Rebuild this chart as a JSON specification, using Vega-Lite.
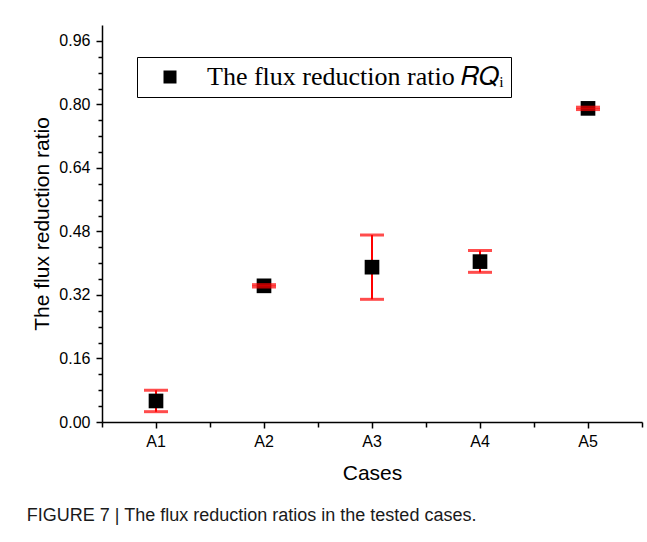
{
  "$schema": "https://vega.github.io/schema/vega-lite/v6.json",
  "width": 540,
  "height": 397,
  "autosize": "none",
  "padding": {"left": 102, "top": 25, "right": 5, "bottom": 120},
  "background": "white",
  "title": {"text": "FIGURE 7 | The flux reduction ratios in the tested cases.", "orient": "bottom", "anchor": "start", "font": "Liberation Sans", "fontSize": 18, "fontWeight": "normal", "color": "#1a1a1a", "offset": 24, "dx": -5},
  "data": {"values": [
    {"case": "A1", "ratio": 0.053, "lo": 0.026, "hi": 0.080, "series": "The flux reduction ratio 𝑅𝑄ᵢ\u00a0\u00a0\u00a0"},
    {"case": "A2", "ratio": 0.343, "lo": 0.340, "hi": 0.346, "series": "The flux reduction ratio 𝑅𝑄ᵢ\u00a0\u00a0\u00a0"},
    {"case": "A3", "ratio": 0.390, "lo": 0.309, "hi": 0.471, "series": "The flux reduction ratio 𝑅𝑄ᵢ\u00a0\u00a0\u00a0"},
    {"case": "A4", "ratio": 0.404, "lo": 0.377, "hi": 0.432, "series": "The flux reduction ratio 𝑅𝑄ᵢ\u00a0\u00a0\u00a0"},
    {"case": "A5", "ratio": 0.790, "lo": 0.787, "hi": 0.793, "series": "The flux reduction ratio 𝑅𝑄ᵢ\u00a0\u00a0\u00a0"}
  ]},
  "config": {
    "view": {"stroke": null},
    "axis": {"domainColor": "black", "domainWidth": 1.5, "tickColor": "black", "tickWidth": 1.5, "labelFont": "Liberation Sans", "labelFontSize": 16, "labelColor": "black", "titleFont": "Liberation Sans", "titleFontSize": 21, "titleFontWeight": "normal", "titleColor": "black", "grid": false}
  },
  "resolve": {"axis": {"x": "independent", "y": "independent"}},
  "layer": [
    {
      "mark": {"type": "rule", "color": "#ff0000", "strokeWidth": 2},
      "encoding": {
        "x": {"field": "case", "type": "nominal", "scale": {"type": "band", "paddingInner": 0, "paddingOuter": 0},
              "axis": {"orient": "bottom", "title": "Cases", "labelAngle": 0, "tickSize": 6, "labelPadding": 5, "titlePadding": 13}},
        "y": {"field": "lo", "type": "quantitative", "scale": {"domain": [0, 1], "nice": false},
              "axis": {"orient": "left", "title": "The flux reduction ratio", "values": [0, 0.16, 0.32, 0.48, 0.64, 0.8, 0.96],
                       "format": ".2f", "tickSize": 6, "labelPadding": 6, "titlePadding": 6}},
        "y2": {"field": "hi"}
      }
    },
    {
      "mark": {"type": "point", "shape": "square", "filled": true, "size": 215, "opacity": 1},
      "encoding": {
        "x": {"field": "case", "type": "nominal", "axis": {"orient": "bottom", "title": null, "labels": false, "domain": false, "tickBand": "extent", "tickSize": 5}},
        "y": {"field": "ratio", "type": "quantitative", "axis": {"orient": "left", "title": null, "labels": false, "domain": false, "tickSize": 4,
              "values": [0.04, 0.08, 0.12, 0.2, 0.24, 0.28, 0.36, 0.4, 0.44, 0.52, 0.56, 0.6, 0.68, 0.72, 0.76, 0.84, 0.88, 0.92]}},
        "color": {"field": "series", "type": "nominal", "scale": {"range": ["black"]},
                  "legend": {"orient": "none", "legendX": 35, "legendY": 32, "title": null, "symbolType": "square", "symbolSize": 169, "symbolStrokeWidth": 0, "strokeColor": "black", "padding": 7, "symbolOffset": 13, "labelFont": "Liberation Serif", "labelFontSize": 26, "labelColor": "black", "labelOffset": 24, "labelLimit": 0}}
      }
    },
    {
      "mark": {"type": "tick", "color": "#ff0000", "size": 24, "thickness": 3},
      "encoding": {
        "x": {"field": "case", "type": "nominal", "axis": null},
        "y": {"field": "hi", "type": "quantitative", "axis": null}
      }
    },
    {
      "mark": {"type": "tick", "color": "#ff0000", "size": 24, "thickness": 3},
      "encoding": {
        "x": {"field": "case", "type": "nominal", "axis": null},
        "y": {"field": "lo", "type": "quantitative", "axis": null}
      }
    }
  ]
}
